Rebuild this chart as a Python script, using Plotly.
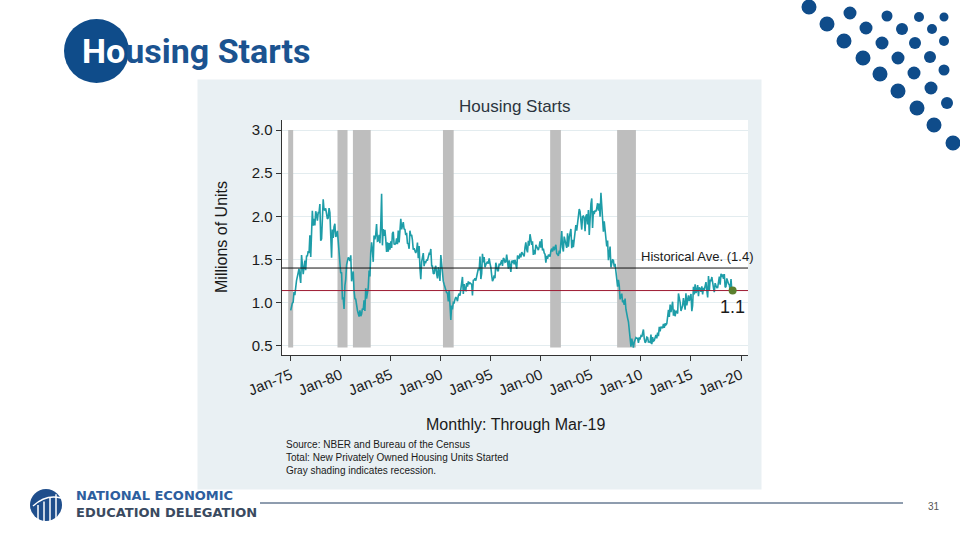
import pandas as pd
import plotly.graph_objects as go

# ---------------- data (thousands of units, SAAR, monthly) ----------------
hs_1975_1979 = [
    910, 990, 993, 1005, 1121, 1087, 1226, 1254, 1300, 1343, 1392, 1304,
    1228, 1550, 1440, 1328, 1408, 1487, 1375, 1539, 1541, 1595, 1574, 1781,
    1527, 1943, 2063, 1892, 1971, 1893, 2058, 2020, 1949, 2042, 2042, 2142,
    1718, 1738, 2032, 2197, 2075, 2070, 2092, 1996, 1970, 1981, 2094, 2044,
    1630, 1520, 1847, 1748, 1876, 1913, 1760, 1778, 1832, 1681, 1524, 1498,
]
hs_1980_1984 = [
    1341, 1350, 1047, 1051, 927, 1196, 1269, 1436, 1471, 1523, 1510, 1482,
    1547, 1246, 1306, 1360, 1140, 1045, 1041, 940, 911, 873, 837, 910,
    843, 866, 931, 917, 1025, 902, 1166, 1046, 1144, 1173, 1372, 1303,
    1586, 1699, 1606, 1472, 1776, 1733, 1785, 1910, 1710, 1715, 1785, 1688,
    1897, 2260, 1663, 1851, 1774, 1843, 1732, 1586, 1698, 1590, 1689, 1612,
]
hs_1985_1989 = [
    1711, 1632, 1800, 1821, 1680, 1676, 1684, 1743, 1676, 1834, 1698, 1942,
    1972, 1848, 1876, 1933, 1854, 1847, 1782, 1807, 1687, 1681, 1623, 1833,
    1774, 1784, 1726, 1614, 1628, 1594, 1575, 1605, 1695, 1515, 1656, 1400,
    1271, 1473, 1532, 1573, 1421, 1478, 1467, 1493, 1492, 1522, 1569, 1563,
    1621, 1425, 1422, 1339, 1331, 1397, 1427, 1332, 1279, 1410, 1351, 1251,
]
hs_1990_1994 = [
    1551, 1437, 1289, 1248, 1212, 1177, 1171, 1115, 1110, 1014, 1145, 969,
    798, 965, 921, 1001, 996, 1036, 1063, 1049, 1015, 1079, 1103, 1079,
    1176, 1250, 1297, 1099, 1214, 1145, 1139, 1226, 1186, 1244, 1214, 1227,
    1210, 1210, 1083, 1258, 1260, 1280, 1254, 1300, 1343, 1392, 1376, 1533,
    1272, 1337, 1564, 1465, 1526, 1409, 1439, 1450, 1474, 1450, 1511, 1455,
]
hs_1995_1999 = [
    1407, 1316, 1249, 1267, 1314, 1281, 1461, 1416, 1369, 1369, 1452, 1431,
    1467, 1491, 1424, 1516, 1504, 1467, 1472, 1557, 1475, 1392, 1489, 1370,
    1355, 1486, 1457, 1492, 1442, 1494, 1437, 1390, 1546, 1520, 1510, 1566,
    1525, 1584, 1567, 1540, 1536, 1641, 1698, 1614, 1582, 1715, 1660, 1792,
    1748, 1670, 1710, 1553, 1611, 1559, 1669, 1648, 1635, 1608, 1648, 1708,
]
hs_2000_2004 = [
    1636, 1737, 1604, 1626, 1575, 1559, 1463, 1541, 1507, 1549, 1551, 1532,
    1600, 1625, 1590, 1649, 1605, 1636, 1670, 1567, 1562, 1540, 1602, 1568,
    1698, 1829, 1642, 1592, 1764, 1717, 1655, 1633, 1804, 1648, 1753, 1788,
    1853, 1629, 1726, 1643, 1751, 1867, 1897, 1833, 1939, 1967, 2083, 2057,
    1911, 1846, 1998, 2003, 1981, 1828, 2002, 2024, 1905, 2072, 1782, 2042,
]
hs_2005_2009 = [
    2144, 2207, 1864, 2061, 2025, 2068, 2054, 2095, 2151, 2065, 2147, 1994,
    2273, 2119, 1969, 1821, 1942, 1802, 1737, 1650, 1720, 1491, 1570, 1649,
    1409, 1480, 1495, 1490, 1415, 1448, 1354, 1330, 1183, 1264, 1197, 1037,
    1084, 1103, 1005, 1013, 973, 1046, 923, 844, 820, 777, 652, 560,
    490, 582, 505, 478, 540, 585, 594, 586, 585, 534, 588, 581,
]
hs_2010_2014 = [
    614, 604, 636, 687, 583, 536, 546, 599, 594, 543, 545, 539,
    630, 517, 600, 554, 561, 608, 623, 585, 650, 611, 719, 666,
    720, 710, 707, 752, 708, 757, 741, 754, 847, 915, 833, 976,
    888, 962, 1010, 847, 917, 841, 903, 893, 872, 1105, 1068, 1001,
    902, 925, 962, 1052, 987, 918, 1106, 967, 1032, 1083, 1016, 1085,
]
hs_2015_2019 = [
    1100, 899, 963, 1184, 1093, 1212, 1112, 1140, 1202, 1073, 1176, 1161,
    1124, 1187, 1095, 1170, 1148, 1193, 1236, 1142, 1059, 1306, 1137, 1265,
    1250, 1296, 1203, 1169, 1121, 1225, 1197, 1173, 1174, 1262, 1300, 1208,
    1334, 1295, 1327, 1276, 1329, 1177, 1184, 1280, 1237, 1217, 1205, 1142,
    1273, 1134, 1139,
]
first_month = "1975-01-01"
historical_avg = 1.4

rec_start = ["1974-10-01", "1979-09-05", "1981-03-20", "1990-03-20", "2000-12-05", "2007-08-15"]
rec_end = ["1975-04-01", "1980-09-05", "1982-12-31", "1991-04-15", "2002-01-01", "2009-07-01"]

tick_years = [1975, 1980, 1985, 1990, 1995, 2000, 2005, 2010, 2015, 2020]
tick_labels = ["Jan-75", "Jan-80", "Jan-85", "Jan-90", "Jan-95",
               "Jan-00", "Jan-05", "Jan-10", "Jan-15", "Jan-20"]
y_ticks = [0.5, 1.0, 1.5, 2.0, 2.5, 3.0]
y_labels = ["0.5", "1.0", "1.5", "2.0", "2.5", "3.0"]

# ---------------- build series ----------------
values_k = (hs_1975_1979 + hs_1980_1984 + hs_1985_1989 + hs_1990_1994 + hs_1995_1999
            + hs_2000_2004 + hs_2005_2009 + hs_2010_2014 + hs_2015_2019)
values = [v / 1000 for v in values_k]
dates = pd.date_range(first_month, periods=len(values), freq="MS")
last_date, last_val = dates[-1], values[-1]

W, H = 960, 540
def px(x): return x / W
def py(y): return 1 - y / H

CHART_FONT = "Liberation Sans, Arial, sans-serif"
TEAL = "#1E9DA8"
NAVY = "#0F4C8A"

fig = go.Figure()
# invisible full-page helper trace so the background subplot (x, y) exists
fig.add_trace(go.Scatter(x=[0, W], y=[0, H], mode="markers", marker=dict(opacity=0),
                         xaxis="x", yaxis="y", hoverinfo="skip"))
# chart on x2 / y2
fig.add_trace(go.Scatter(x=dates, y=values, mode="lines", xaxis="x2", yaxis="y2",
                         line=dict(color=TEAL, width=1.6), hoverinfo="skip"))
fig.add_trace(go.Scatter(x=["1974-01-01", "2021-12-01"], y=[historical_avg] * 2, mode="lines",
                         xaxis="x2", yaxis="y2", line=dict(color="#111111", width=1), hoverinfo="skip"))
fig.add_trace(go.Scatter(x=["1974-01-01", "2021-12-01"], y=[last_val] * 2, mode="lines",
                         xaxis="x2", yaxis="y2", line=dict(color="#9E1B32", width=1), hoverinfo="skip"))
fig.add_trace(go.Scatter(x=[last_date], y=[last_val], mode="markers", xaxis="x2", yaxis="y2",
                         marker=dict(color="#5B7F2E", size=8), hoverinfo="skip"))

shapes = []
# slide panel behind the chart image (pixel coordinates on the background axes)
shapes.append(dict(type="rect", xref="x", yref="y", x0=197.5, x1=761.5, y0=79.5, y1=489.5,
                   fillcolor="#E9F0F3", line=dict(width=0), layer="below"))
shapes.append(dict(type="rect", xref="x", yref="y", x0=281.5, x1=748, y0=120, y1=355,
                   fillcolor="white", line=dict(width=0), layer="below"))
# recession shading
for s, e in zip(rec_start, rec_end):
    shapes.append(dict(type="rect", xref="x2", yref="y2", x0=s, x1=e, y0=0.48, y1=3.0,
                       fillcolor="#BEBEBE", line=dict(width=0), layer="between"))

# title circle
shapes.append(dict(type="circle", xref="paper", yref="paper", x0=px(64), x1=px(129),
                   y0=py(83), y1=py(19), fillcolor=NAVY, line=dict(width=0)))
# decorative dots top right
dots = [(809, 7, 7.5), (850, 13, 6.5), (887, 16, 5.5), (919, 17, 5), (944, 17, 4.5),
        (827, 24, 7.5), (866, 28, 6.5), (902, 29, 6), (932, 29, 5), (944, 41, 5),
        (844, 41, 7.5), (882, 43, 6.5), (915, 43, 6), (863, 58, 7.5), (898, 58, 6.5),
        (930, 57, 6), (880, 74, 7.5), (914, 73, 6.5), (944, 70, 5.5), (898, 91, 7.5),
        (931, 88, 6.5), (917, 108, 7.5), (947, 103, 6), (934, 125, 7.5), (953, 143, 7.5)]
for (cx, cy, r) in dots:
    shapes.append(dict(type="circle", xref="paper", yref="paper", x0=px(cx - r), x1=px(cx + r),
                       y0=py(cy + r), y1=py(cy - r), fillcolor=NAVY, line=dict(width=0)))
# logo emblem
shapes.append(dict(type="circle", xref="paper", yref="paper", x0=px(30), x1=px(62),
                   y0=py(521), y1=py(489), fillcolor="#1F4E8C", line=dict(width=0)))
for bx in [38, 44, 50, 56]:
    shapes.append(dict(type="line", xref="paper", yref="paper", x0=px(bx), x1=px(bx),
                       y0=py(522), y1=py(505 - (bx - 38) * 0.6), line=dict(color="white", width=1.5)))
shapes.append(dict(type="path", xref="paper", yref="paper",
                   path=f"M {px(33)},{py(506)} Q {px(46)},{py(494)} {px(61)},{py(498)}",
                   line=dict(color="white", width=1.5)))
# footer rule
shapes.append(dict(type="line", xref="paper", yref="paper", x0=px(260), x1=px(903),
                   y0=py(503), y1=py(503), line=dict(color="#1F3A5F", width=1)))

annotations = [
    dict(text='<span style="color:white">Ho</span>using Starts', x=px(80), y=py(51),
         xref="paper", yref="paper", xanchor="left", yanchor="middle", showarrow=False,
         font=dict(family="Roboto, Lato, sans-serif", size=34, color="#1B5390", weight="bold")),
    dict(text="Housing Starts", x=px(515), y=py(106), xref="paper", yref="paper",
         xanchor="center", yanchor="middle", showarrow=False,
         font=dict(family=CHART_FONT, size=17, color="#2B3540")),
    dict(text="Millions of Units", x=px(221), y=py(237), xref="paper", yref="paper",
         xanchor="center", yanchor="middle", showarrow=False, textangle=-90,
         font=dict(family=CHART_FONT, size=16, color="#1a1a1a")),
    dict(text="Monthly: Through Mar-19", x=px(515.5), y=py(424), xref="paper", yref="paper",
         xanchor="center", yanchor="middle", showarrow=False,
         font=dict(family=CHART_FONT, size=16, color="#1a1a1a")),
    dict(text="Source: NBER and Bureau of the Census<br>Total: New Privately Owned Housing Units Started"
              "<br>Gray shading indicates recession.",
         x=px(284), y=py(437), xref="paper", yref="paper", xanchor="left", yanchor="top",
         align="left", showarrow=False,
         font=dict(family=CHART_FONT, size=10, color="#1a1a1a")),
    dict(text=f"Historical Ave. ({historical_avg:.1f})", x=px(755), y=py(266), xref="paper", yref="paper",
         xanchor="right", yanchor="bottom", showarrow=False,
         font=dict(family=CHART_FONT, size=13, color="#1a1a1a")),
    dict(text=f"{last_val:.1f}", x=last_date, y=last_val, xref="x2", yref="y2",
         xanchor="center", yanchor="top", yshift=-4, showarrow=False,
         font=dict(family=CHART_FONT, size=18, color="#1a1a1a")),
    dict(text='<span style="color:#2D5E9E">NATIONAL ECONOMIC</span><br>'
              '<span style="color:#3A4A60">EDUCATION DELEGATION</span>',
         x=px(74), y=py(504), xref="paper", yref="paper",
         xanchor="left", yanchor="middle", align="left", showarrow=False,
         font=dict(family="DejaVu Sans, sans-serif", size=13, color="#2D5E9E", weight="bold")),
    dict(text="31", x=px(934), y=py(506), xref="paper", yref="paper",
         xanchor="center", yanchor="middle", showarrow=False,
         font=dict(family="Liberation Sans, sans-serif", size=10, color="#555555")),
]

hidden = dict(visible=False, showgrid=False, zeroline=False, automargin=False, fixedrange=True)
fig.update_layout(
    width=W, height=H, margin=dict(l=0, r=0, t=0, b=0, pad=0),
    paper_bgcolor="white", plot_bgcolor="rgba(0,0,0,0)", showlegend=False,
    shapes=shapes, annotations=annotations,
    xaxis=dict(domain=[0, 1], range=[0, W], **hidden),
    yaxis=dict(domain=[0, 1], range=[H, 0], **hidden),
    xaxis2=dict(domain=[px(281.5), px(748)], type="date", anchor="y2", automargin=False,
                range=["1974-01-30", "2020-09-12"],
                tickvals=[f"{y}-01-01" for y in tick_years], ticktext=tick_labels,
                tickangle=-22, ticks="outside", ticklen=5, tickcolor="#333333",
                showline=True, linecolor="#333333", linewidth=1, showgrid=False, zeroline=False,
                tickfont=dict(family=CHART_FONT, size=15, color="#1a1a1a")),
    yaxis2=dict(domain=[py(355), py(120)], range=[0.392, 3.116], anchor="x2", automargin=False,
                tickvals=y_ticks, ticktext=y_labels,
                ticks="outside", ticklen=5, tickcolor="#333333",
                showline=True, linecolor="#333333", linewidth=1,
                showgrid=True, gridcolor="#E3ECEF", gridwidth=1, zeroline=False,
                tickfont=dict(family=CHART_FONT, size=15, color="#1a1a1a")),
)

fig.write_html("out.html")
